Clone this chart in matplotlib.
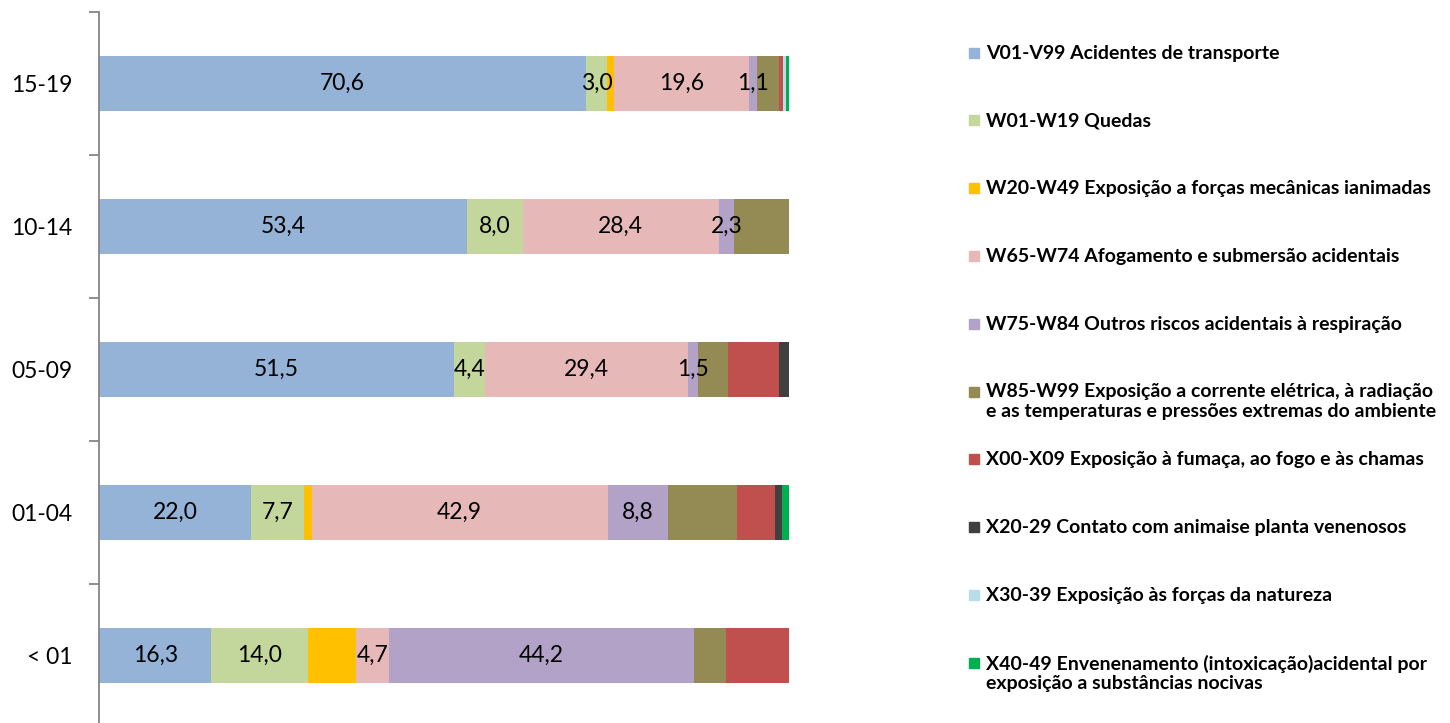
import numpy as np
import matplotlib.pyplot as plt
from matplotlib.patches import Rectangle

plt.rcParams.update({'font.family': ['Lato', 'DejaVu Sans']})

ages = ['< 01', '01-04', '05-09', '10-14', '15-19']

series_names = [
    'V01-V99 Acidentes de transporte',
    'W01-W19 Quedas',
    'W20-W49 Exposição a forças mecânicas ianimadas',
    'W65-W74 Afogamento e submersão acidentais',
    'W75-W84 Outros riscos acidentais à respiração',
    'W85-W99 Exposição a corrente elétrica, à radiação\ne as temperaturas e pressões extremas do ambiente',
    'X00-X09 Exposição à fumaça, ao fogo e às chamas',
    'X20-29 Contato com animaise planta venenosos',
    'X30-39 Exposição às forças da natureza',
    'X40-49 Envenenamento (intoxicação)acidental por\nexposição a substâncias nocivas',
]

colors = ['#95B3D7', '#C3D69B', '#FFC000', '#E6B9B8', '#B3A2C7',
          '#948A54', '#C0504D', '#404040', '#B7DEE8', '#00B050']

# percentages per age group, order: < 01, 01-04, 05-09, 10-14, 15-19
transporte = [16.3, 22.0, 51.5, 53.4, 70.6]
quedas = [14.0, 7.7, 4.4, 8.0, 3.0]
forcas = [7.0, 1.1, 0.0, 0.0, 1.0]
afogamento = [4.7, 42.9, 29.4, 28.4, 19.6]
respiracao = [44.2, 8.8, 1.5, 2.3, 1.1]
eletrica = [4.6, 10.0, 4.3, 7.9, 3.2]
fogo = [9.2, 5.5, 7.4, 0.0, 0.6]
animais = [0.0, 1.0, 1.5, 0.0, 0.1]
natureza = [0.0, 0.0, 0.0, 0.0, 0.3]
envenenamento = [0.0, 1.0, 0.0, 0.0, 0.5]

data = [transporte, quedas, forcas, afogamento, respiracao,
        eletrica, fogo, animais, natureza, envenenamento]
labeled = [0, 1, 3, 4]

W, H = 1450, 723
fig = plt.figure(figsize=(W / 100, H / 100), dpi=100)
ax = fig.add_axes([99 / W, -4 / H, 690 / W, (727 - 12) / H])

y = np.arange(len(ages))
left = np.zeros(len(ages))
for i, vals in enumerate(data):
    vals = np.array(vals)
    ax.barh(y, vals, left=left, height=0.39, color=colors[i], linewidth=0)
    if i in labeled:
        for j, v in enumerate(vals):
            if v > 0:
                ax.text(left[j] + v / 2, y[j], f'{v:.1f}'.replace('.', ','),
                        ha='center', va='center', fontsize=16.5, color='black')
    left += vals

ax.set_xlim(0, 100)
ax.set_ylim(-0.5, 4.5)
for s in ['top', 'right', 'bottom']:
    ax.spines[s].set_visible(False)
ax.spines['left'].set_color('#868686')
ax.spines['left'].set_linewidth(1.3)
ax.set_xticks([])
ax.set_yticks(y)
ax.set_yticklabels(ages, fontsize=16.5)
ax.tick_params(axis='y', which='major', length=0, pad=19)
ax.set_yticks(np.arange(-0.5, 5.0, 1.0), minor=True)
ax.tick_params(axis='y', which='minor', length=7, color='#868686', width=1.3)

# legend, drawn entry by entry
y0, step = 52.5, 67.8
for i, name in enumerate(series_names):
    yc = y0 + i * step
    fig.patches.append(Rectangle((969 / W, 1 - (yc + 5) / H), 10 / W, 10 / H,
                                 transform=fig.transFigure, color=colors[i]))
    fig.text(986 / W, 1 - (yc - 8) / H, name, ha='left', va='top',
             fontsize=14, fontweight='bold', linespacing=1.15)

fig.savefig('out.png', dpi=100)
